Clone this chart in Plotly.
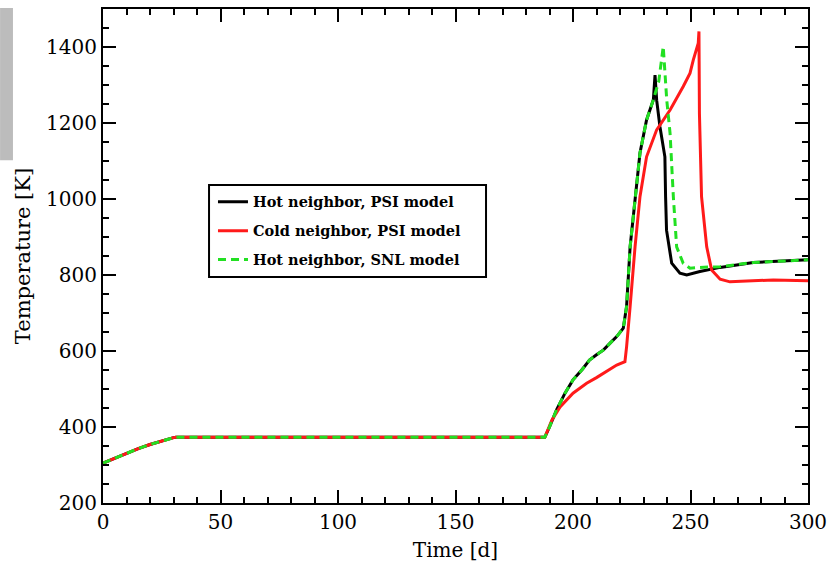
import plotly.graph_objects as go

# Hot neighbor, PSI model
hot_psi_t = [0, 5, 10, 15, 20, 25, 30, 31, 100, 188, 190, 193, 196.6, 200, 204, 207, 210, 213, 216, 218.6, 221.4, 222.8, 224.3, 226.4, 228.5, 231.3, 234.2, 234.9, 235.6, 237, 239.1, 239.4, 239.8, 242, 245.5, 248.4, 254, 262.6, 276.7, 300]
hot_psi_T = [305, 318, 331, 343, 354, 364, 372, 373, 373, 373, 400, 445, 489, 524, 552, 576, 590, 603, 622, 638, 660, 717, 874, 1006, 1121, 1208, 1261, 1326, 1260, 1190, 1111, 1006, 918, 831, 805, 800, 809, 820, 833, 840]

# Cold neighbor, PSI model
cold_psi_t = [0, 5, 10, 15, 20, 25, 30, 31, 100, 188, 191, 194.5, 200, 205.8, 210, 213, 218.6, 222.1, 222.8, 224.3, 226.4, 228.5, 231.3, 235.6, 241.3, 246.9, 249.8, 251.2, 253.3, 253.6, 253.8, 254.7, 255.5, 256.9, 259, 262.6, 266.8, 285.2, 300]
cold_psi_T = [305, 318, 331, 343, 354, 364, 372, 373, 373, 373, 418, 453, 489, 515, 530, 541, 563, 572, 611, 717, 874, 1006, 1111, 1182, 1234, 1296, 1331, 1366, 1410, 1441, 1225, 1006, 962, 874, 813, 789, 782, 787, 785]

# Hot neighbor, SNL model
hot_snl_t = [0, 5, 10, 15, 20, 25, 30, 31, 100, 188, 190, 193, 196.6, 200, 204, 207, 210, 213, 216, 218.6, 221.4, 222.8, 224.3, 226.4, 228.5, 231.3, 234.2, 236.5, 237.7, 238.4, 239.9, 241.3, 242.7, 244.1, 246.9, 249.8, 254, 262.6, 276.7, 300]
hot_snl_T = [305, 318, 331, 343, 354, 364, 372, 373, 373, 373, 400, 445, 489, 524, 552, 576, 590, 603, 622, 638, 660, 717, 874, 1006, 1121, 1208, 1261, 1310, 1362, 1401, 1260, 1173, 1006, 874, 831, 818, 820, 822, 833, 840]

series_names = ["Hot neighbor, PSI model", "Cold neighbor, PSI model", "Hot neighbor, SNL model"]

fig = go.Figure()
fig.add_trace(go.Scatter(x=hot_psi_t, y=hot_psi_T, mode="lines", name=series_names[0],
                         legendgroup="a", line=dict(color="black", width=3)))
fig.add_trace(go.Scatter(x=cold_psi_t, y=cold_psi_T, mode="lines", name=series_names[1],
                         legendgroup="b", line=dict(color="#ff1a1a", width=3)))
fig.add_trace(go.Scatter(x=hot_snl_t, y=hot_snl_T, mode="lines", name=series_names[2],
                         legendgroup="c", line=dict(color="#22e022", width=3, dash="8px,5px")))

font_fam = "DejaVu Serif"
axis_common = dict(showline=True, linecolor="black", linewidth=2, mirror="allticks",
                   ticks="inside", ticklen=13, tickwidth=2, tickcolor="black",
                   showgrid=False, zeroline=False, automargin=False,
                   tickfont=dict(family=font_fam, size=20, color="black"))

fig.update_xaxes(range=[0, 300], dtick=50, tick0=0,
                 minor=dict(ticks="inside", ticklen=6, tickwidth=2, tickcolor="black", dtick=10),
                 title=dict(text="Time [d]", font=dict(family=font_fam, size=20, color="black"), standoff=10),
                 **axis_common)
fig.update_yaxes(range=[200, 1500], dtick=200, tick0=200,
                 minor=dict(ticks="inside", ticklen=6, tickwidth=2, tickcolor="black", dtick=50),
                 title=dict(text="Temperature [K]", font=dict(family=font_fam, size=21, color="black"), standoff=10),
                 **axis_common)

# grey strip at left edge
fig.add_shape(type="rect", xref="paper", yref="paper", x0=-0.146, x1=-0.1277, y0=0.694, y1=1.002,
              fillcolor="#bcbcbc", line=dict(width=0), layer="above")
# legend frame
fig.add_shape(type="rect", xref="paper", yref="paper", x0=0.1504, x1=0.5433, y0=0.4575, y1=0.6437,
              fillcolor="white", line=dict(color="black", width=2), layer="above")

fig.update_layout(
    width=829, height=564,
    margin=dict(l=103, r=21, t=9, b=61),
    plot_bgcolor="white", paper_bgcolor="white",
    showlegend=True,
    legend=dict(x=0.156, y=0.642, xanchor="left", yanchor="top",
                borderwidth=0, bgcolor="rgba(0,0,0,0)",
                font=dict(family=font_fam, size=14.5, color="black", weight="bold"),
                tracegroupgap=7, itemwidth=30),
)

fig.write_html("out.html")
